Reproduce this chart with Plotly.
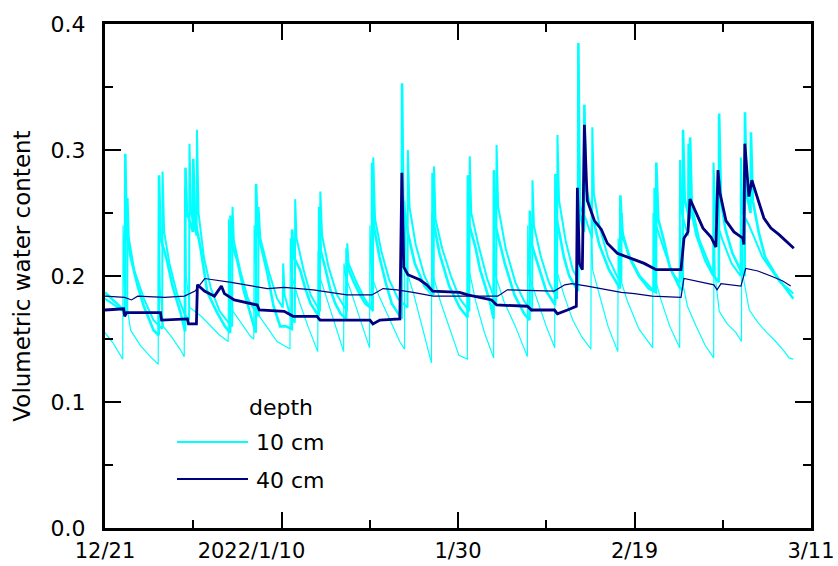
import pandas as pd
import plotly.graph_objects as go

# ---- soil moisture records (elapsed days since 2021-12-21 00:00, volumetric water content) ----
START = pd.Timestamp("2021-12-21")

# 10 cm depth, sensor A
t10a = [0.0, 1.0, 2.26, 2.30, 2.45, 2.9, 3.7, 4.4, 5.5, 6.08,
        6.12, 6.3, 7.0, 7.65, 8.55, 9.08,
        9.12, 9.3, 9.96, 10.0, 10.2, 10.8, 11.6, 12.7, 13.6, 14.18,
        14.22, 14.4, 15.0, 15.7, 16.5, 17.08,
        17.12, 17.3, 17.6, 18.4, 19.1, 19.85, 20.5, 21.17,
        21.2, 21.4, 22.1, 22.7, 23.3, 24.23,
        24.27, 24.45, 25.0, 25.5, 26.1, 26.7, 27.33,
        27.37, 27.6, 28.2, 28.9, 29.5, 30.23,
        30.27, 30.45, 31.1, 31.8, 32.5, 33.62,
        33.66, 33.8, 34.3, 35.1, 36.2, 37.08,
        37.12, 37.3, 37.9, 39.0, 40.2, 41.08,
        41.12, 41.3, 42.0, 42.5, 43.6, 44.03,
        44.07, 44.25, 45.3, 46.4, 47.5, 48.1,
        48.14, 48.35, 49.2, 50.0, 51.0,
        51.04, 51.2, 52.0, 52.6, 53.6,
        53.64, 53.8, 54.28, 54.32, 54.5, 55.3, 56.0, 57.1, 58.0, 58.36,
        58.4, 58.6, 59.4, 60.5, 61.6, 62.43,
        62.47, 62.7, 63.3, 64.0, 65.1, 65.46,
        65.5, 65.7, 66.25, 66.3, 66.5, 67.3, 68.4, 69.0, 69.55,
        69.59, 69.8, 70.3, 71.1, 72.0, 72.48,
        72.52, 72.7, 73.15, 73.2, 73.4, 74.1, 74.8, 75.9, 77.0, 78.0]
v10a = [0.187, 0.180, 0.172, 0.297, 0.235, 0.215, 0.192, 0.176, 0.157, 0.153,
        0.280, 0.230, 0.213, 0.192, 0.171, 0.156,
        0.286, 0.250, 0.235, 0.293, 0.245, 0.223, 0.187, 0.171, 0.160, 0.155,
        0.248, 0.225, 0.212, 0.189, 0.168, 0.155,
        0.273, 0.235, 0.226, 0.202, 0.176, 0.160, 0.160, 0.158,
        0.237, 0.215, 0.205, 0.190, 0.178, 0.168,
        0.255, 0.220, 0.205, 0.190, 0.178, 0.170, 0.166,
        0.222, 0.205, 0.195, 0.185, 0.178, 0.174,
        0.290, 0.240, 0.215, 0.195, 0.178, 0.166,
        0.353, 0.260, 0.235, 0.210, 0.192, 0.185,
        0.282, 0.240, 0.218, 0.192, 0.175, 0.167,
        0.280, 0.240, 0.222, 0.205, 0.180, 0.166,
        0.284, 0.240, 0.210, 0.185, 0.170, 0.165,
        0.252, 0.225, 0.205, 0.188, 0.177,
        0.281, 0.245, 0.215, 0.200, 0.188,
        0.385, 0.250, 0.235, 0.336, 0.270, 0.245, 0.225, 0.205, 0.195, 0.190,
        0.264, 0.235, 0.215, 0.200, 0.190, 0.187,
        0.290, 0.245, 0.229, 0.207, 0.191, 0.189,
        0.316, 0.260, 0.245, 0.310, 0.255, 0.229, 0.210, 0.200, 0.195,
        0.329, 0.260, 0.237, 0.218, 0.205, 0.200,
        0.330, 0.265, 0.250, 0.314, 0.260, 0.234, 0.215, 0.202, 0.191, 0.182]

# 10 cm depth, sensor B
t10b = [0.0, 1.2, 2.52, 2.56, 2.7, 3.3, 4.4, 5.5, 6.48,
        6.52, 6.7, 7.3, 8.2, 9.0, 9.53,
        9.57, 9.75, 10.38, 10.42, 10.6, 11.2, 12.0, 13.0, 14.0, 14.41,
        14.45, 14.6, 15.3, 16.2, 17.36,
        17.4, 17.6, 18.5, 19.5, 20.15,
        20.19, 20.35, 21.0, 21.51,
        21.55, 21.7, 22.5, 23.3, 24.36,
        24.4, 24.6, 25.3, 26.3, 27.41,
        27.45, 27.6, 28.5, 29.4, 30.36,
        30.4, 30.6, 31.3, 32.2, 33.2, 34.28,
        34.32, 34.5, 35.2, 36.2, 37.24,
        37.28, 37.45, 38.2, 39.2, 40.2, 41.29,
        41.33, 41.5, 42.3, 43.3, 44.33,
        44.37, 44.55, 45.4, 46.5, 47.5, 48.4,
        48.44, 48.6, 49.4, 50.3, 51.23,
        51.27, 51.45, 52.2, 53.0, 53.64,
        53.68, 53.85, 54.5, 55.18,
        55.22, 55.4, 56.1, 57.0, 58.0, 58.51,
        58.55, 58.7, 59.5, 60.6, 61.6, 62.21,
        62.25, 62.45, 63.3, 64.3, 65.12,
        65.16, 65.35, 66.06, 66.1, 66.3, 67.0, 68.0, 68.91,
        68.95, 69.2, 70.0, 71.0, 72.02,
        72.06, 72.25, 73.0, 73.7, 74.5, 75.5, 76.5, 77.4, 78.0]
v10b = [0.182, 0.176, 0.170, 0.262, 0.230, 0.205, 0.182, 0.165, 0.158,
        0.283, 0.235, 0.210, 0.185, 0.170, 0.165,
        0.305, 0.250, 0.232, 0.316, 0.250, 0.215, 0.190, 0.172, 0.163, 0.160,
        0.255, 0.228, 0.205, 0.182, 0.168,
        0.255, 0.230, 0.205, 0.182, 0.175,
        0.210, 0.185, 0.168, 0.163,
        0.261, 0.230, 0.205, 0.185, 0.172,
        0.267, 0.232, 0.208, 0.185, 0.172,
        0.226, 0.210, 0.195, 0.182, 0.172,
        0.294, 0.245, 0.220, 0.197, 0.182, 0.175,
        0.300, 0.255, 0.225, 0.200, 0.185,
        0.287, 0.245, 0.222, 0.200, 0.182, 0.172,
        0.295, 0.250, 0.225, 0.198, 0.178,
        0.304, 0.255, 0.222, 0.195, 0.180, 0.172,
        0.276, 0.240, 0.215, 0.195, 0.182,
        0.312, 0.260, 0.228, 0.205, 0.197,
        0.310, 0.255, 0.245, 0.230,
        0.318, 0.265, 0.237, 0.215, 0.200, 0.195,
        0.250, 0.230, 0.215, 0.200, 0.192, 0.188,
        0.270, 0.240, 0.222, 0.202, 0.195,
        0.292, 0.250, 0.232, 0.305, 0.255, 0.232, 0.212, 0.200,
        0.290, 0.245, 0.228, 0.210, 0.200,
        0.294, 0.250, 0.240, 0.228, 0.215, 0.205, 0.195, 0.190, 0.186]

# 10 cm depth, sensor C
t10c = [0.0, 0.9, 2.01, 2.05, 2.2, 2.9, 4.0, 5.0, 6.03,
        6.07, 6.25, 6.6, 7.5, 8.5, 8.98,
        9.02, 9.2, 9.6, 10.9, 12.0, 13.0, 13.96,
        14.0, 14.15, 14.5, 15.5, 16.5, 16.86,
        16.9, 17.1, 17.5, 18.5, 19.5, 20.96,
        21.0, 21.15, 22.0, 23.0, 24.11,
        24.15, 24.3, 25.0, 26.0, 27.04,
        27.08, 27.25, 28.0, 29.0, 29.98,
        30.02, 30.2, 31.0, 32.3, 33.4, 33.94,
        33.98, 34.15, 35.0, 36.0, 36.99,
        37.03, 37.2, 38.0, 39.0, 40.1, 41.06,
        41.1, 41.25, 42.0, 43.0, 44.04,
        44.08, 44.25, 45.2, 46.5, 47.86,
        47.9, 48.05, 49.0, 50.0, 50.96,
        51.0, 51.15, 52.0, 53.0, 54.0, 55.06,
        55.1, 55.25, 56.0, 57.0, 58.11,
        58.15, 58.3, 59.2, 60.5, 62.06,
        62.1, 62.25, 63.0, 64.0, 65.12,
        65.16, 65.3, 66.0, 67.0, 68.0, 68.97,
        69.01, 69.15, 69.6, 70.5, 71.5, 72.12,
        72.16, 72.3, 73.0, 74.0, 75.0, 76.0, 77.0, 77.5, 78.0]
v10c = [0.155, 0.147, 0.134, 0.240, 0.190, 0.157, 0.145, 0.137, 0.130,
        0.260, 0.190, 0.160, 0.152, 0.142, 0.136,
        0.270, 0.200, 0.175, 0.168, 0.160, 0.153, 0.148,
        0.245, 0.200, 0.172, 0.162, 0.152, 0.150,
        0.240, 0.200, 0.168, 0.158, 0.148, 0.142,
        0.230, 0.200, 0.180, 0.160, 0.140,
        0.220, 0.200, 0.185, 0.163, 0.140,
        0.210, 0.200, 0.185, 0.163, 0.143,
        0.240, 0.200, 0.185, 0.165, 0.148, 0.142,
        0.260, 0.205, 0.185, 0.158, 0.131,
        0.250, 0.200, 0.180, 0.160, 0.137, 0.134,
        0.280, 0.205, 0.180, 0.155, 0.135,
        0.250, 0.200, 0.180, 0.160, 0.136,
        0.240, 0.200, 0.180, 0.160, 0.143,
        0.270, 0.205, 0.185, 0.165, 0.152, 0.142,
        0.260, 0.205, 0.185, 0.160, 0.140,
        0.230, 0.200, 0.180, 0.158, 0.143,
        0.250, 0.200, 0.181, 0.160, 0.143,
        0.240, 0.200, 0.176, 0.160, 0.145, 0.135,
        0.250, 0.200, 0.172, 0.162, 0.155, 0.148,
        0.250, 0.200, 0.173, 0.163, 0.155, 0.148, 0.140, 0.135, 0.134]

# 40 cm depth, sensor A
t40a = [0.0, 1.89, 2.11, 2.23, 2.45, 5.95, 6.29, 6.41, 9.35, 9.46, 10.36,
        10.47, 11.27, 12.4, 13.19, 13.53, 14.65, 17.25, 17.48, 20.3, 21.32,
        24.03, 24.37, 30.02, 30.36, 31.15, 33.41,
        33.64, 33.86, 34.32, 35.67, 36.46, 37.14, 40.19, 41.1, 43.81, 44.37,
        47.87, 48.32, 50.93, 51.27, 52.4, 53.41,
        53.53, 53.76, 54.09, 54.32, 54.55, 54.65, 55.45, 56.24, 56.92, 58.05,
        59.97, 61.1, 62.45, 65.27,
        65.61, 66.06, 66.29, 66.97, 67.76, 68.66, 69.23,
        69.46, 69.68, 70.36, 71.27, 72.28, 72.39,
        72.5, 72.84, 72.96, 73.3, 73.98, 74.66, 75.45, 76.35, 78.05]
v40a = [0.173, 0.174, 0.174, 0.168, 0.171, 0.171, 0.171, 0.165, 0.166, 0.162, 0.162,
        0.193, 0.188, 0.184, 0.192, 0.186, 0.181, 0.177, 0.173, 0.172, 0.168,
        0.168, 0.165, 0.165, 0.162, 0.165, 0.166,
        0.282, 0.207, 0.201, 0.197, 0.193, 0.188, 0.187, 0.185, 0.181, 0.177,
        0.176, 0.173, 0.173, 0.170, 0.173, 0.176,
        0.270, 0.210, 0.205, 0.320, 0.276, 0.260, 0.244, 0.237, 0.226, 0.218,
        0.213, 0.210, 0.205, 0.205,
        0.230, 0.235, 0.261, 0.250, 0.238, 0.231, 0.223,
        0.284, 0.266, 0.244, 0.235, 0.230, 0.225,
        0.305, 0.275, 0.263, 0.276, 0.260, 0.246, 0.238, 0.233, 0.222]

# 40 cm depth, sensor B
t40b = [0.0, 2.23, 3.0, 3.7, 6.75, 9.0, 10.2, 11.3, 14.3, 17.25, 18.4, 20.3,
        23.6, 27.4, 30.25, 31.5, 33.1, 34.9, 37.2, 40.2, 44.5, 45.6, 50.9,
        52.1, 52.9, 54.65, 58.5, 60.0, 62.0, 65.27, 65.6, 69.0, 69.35, 69.8,
        72.06, 72.6, 73.98, 75.45, 76.8, 77.7]
v40b = [0.184, 0.183, 0.181, 0.184, 0.183, 0.184, 0.188, 0.198, 0.195, 0.191, 0.190, 0.191,
        0.189, 0.185, 0.185, 0.190, 0.189, 0.187, 0.184, 0.184, 0.184, 0.189, 0.188,
        0.193, 0.194, 0.192, 0.187, 0.186, 0.184, 0.183, 0.198, 0.193, 0.189, 0.194,
        0.192, 0.206, 0.204, 0.200, 0.196, 0.192]

# axis ticks
x_tick_days = [0, 20, 40, 60, 80]
x_tick_text = ["12/21", "2022/1/10", "1/30", "2/19", "3/11"]
x_minor_days = [10, 30, 50, 70]
y_tick_vals = [0.0, 0.1, 0.2, 0.3, 0.4]
y_minor_vals = [0.05, 0.15, 0.25, 0.35]

legend_depths = ["10 cm", "40 cm"]

CYAN = "#00FFFF"
NAVY = "#000080"
FONT = "DejaVu Sans, sans-serif"


def to_time(days):
    return START + pd.to_timedelta(days, unit="D")


def year_prefixed(label):
    # keep the month/day part centred on its tick; the year prefix hangs to the left
    if "/" in label and label.count("/") == 2:
        prefix = label[: label.index("/") + 1]
        return label + "\u00a0" * (len(prefix) * 2 - 1)
    return label


series = [
    (t10c, v10c, CYAN, 1.2),
    (t10b, v10b, CYAN, 2.0),
    (t10a, v10a, CYAN, 2.6),
    (t40b, v40b, NAVY, 1.2),
    (t40a, v40a, NAVY, 2.8),
]

fig = go.Figure()
for t, v, color, w in series:
    fig.add_trace(go.Scatter(
        x=to_time(t), y=v, mode="lines",
        line=dict(color=color, width=w),
        showlegend=False, hoverinfo="skip",
    ))

# page geometry
W, H = 838, 566
M_L, M_R, M_T, M_B = 105, 27, 24, 38
PW, PH = W - M_L - M_R, H - M_T - M_B


def px(x):
    return (x - M_L) / PW


def py(y):
    return (H - M_B - y) / PH


# legend block drawn in the lower-left corner of the plot area
legend_rows = [(442, CYAN), (479, NAVY)]
for (row_y, color), label in zip(legend_rows, legend_depths):
    fig.add_shape(type="line", xref="paper", yref="paper",
                  x0=px(177), x1=px(248), y0=py(row_y), y1=py(row_y),
                  line=dict(color=color, width=2.2))
    fig.add_annotation(xref="paper", yref="paper", x=px(254), y=py(row_y + 1),
                       text=label, showarrow=False, xanchor="left", yanchor="middle",
                       font=dict(size=22, color="black", family=FONT))
fig.add_annotation(xref="paper", yref="paper", x=px(281), y=py(407),
                   text="depth", showarrow=False, xanchor="center", yanchor="middle",
                   font=dict(size=22, color="black", family=FONT))

axis_common = dict(
    showline=True, linecolor="black", linewidth=3, mirror="allticks",
    ticks="inside", ticklen=16, tickwidth=2, tickcolor="black",
    showgrid=False, zeroline=False,
)

fig.update_xaxes(
    type="date",
    range=[to_time(0), to_time(80)],
    tickmode="array",
    tickvals=list(to_time(x_tick_days)),
    ticktext=[year_prefixed(s) for s in x_tick_text],
    tickfont=dict(size=21, color="black", family=FONT),
    minor=dict(tickmode="array", tickvals=list(to_time(x_minor_days)),
               ticks="inside", ticklen=8, tickwidth=2, tickcolor="black", showgrid=False),
    ticklabelstandoff=2,
    **axis_common,
)
fig.update_yaxes(
    range=[0, 0.4],
    tickmode="array",
    tickvals=y_tick_vals,
    tickformat=".1f",
    tickfont=dict(size=22, color="black", family=FONT),
    minor=dict(tickmode="array", tickvals=y_minor_vals,
               ticks="inside", ticklen=8, tickwidth=2, tickcolor="black", showgrid=False),
    ticklabelstandoff=12,
    title=dict(text="Volumetric water content", standoff=14,
               font=dict(size=23, color="black", family=FONT)),
    **axis_common,
)

fig.update_layout(
    width=W, height=H,
    margin=dict(l=M_L, r=M_R, t=M_T, b=M_B, autoexpand=False),
    plot_bgcolor="white", paper_bgcolor="white",
    showlegend=False,
)

fig.write_html("out.html")
